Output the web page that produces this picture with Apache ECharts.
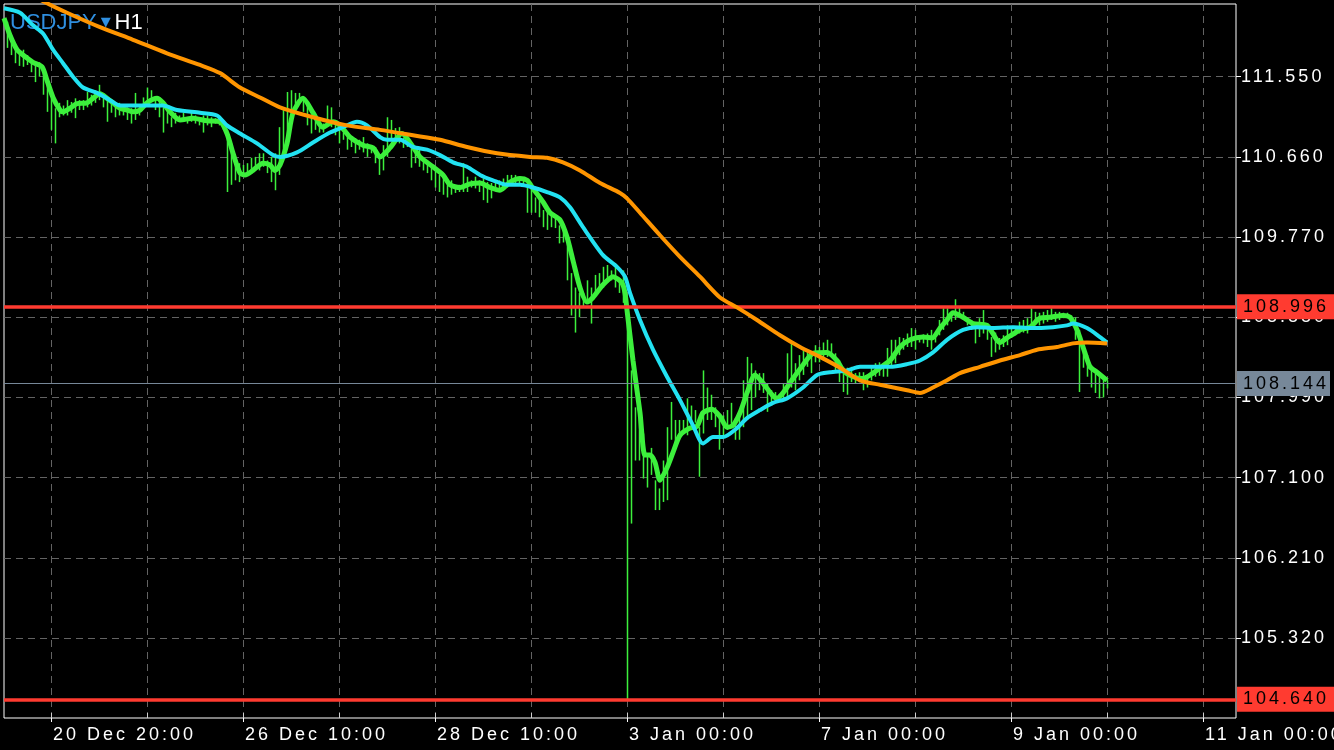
<!DOCTYPE html>
<html>
<head>
<meta charset="utf-8">
<script src="https://cdn.jsdelivr.net/npm/echarts@6/dist/echarts.min.js"></script>
<style>
html,body{margin:0;padding:0;background:#000;}
#c{width:1334px;height:750px;}
</style>
</head>
<body>
<div id="c"></div>
<script>
// ---- tracking for the axis/tag text (wide-spaced terminal font look) ----
(function(){
  var P = CanvasRenderingContext2D.prototype, orig = P.fillText;
  P.fillText = function(){
    if ('letterSpacing' in this) this.letterSpacing = /(^|\s)18px/.test(this.font) ? '3px' : '0px';
    return orig.apply(this, arguments);
  };
})();

// ---------------- DATA ----------------
const symbol = 'USDJPY';
const timeframe = 'H1';
const firstBar = 13;   // bar index of the first hourly bar shown
const barHigh = [
112.16,112.01,111.90,111.85,111.85,111.79,111.73,111.71,111.71,111.62,
111.46,111.31,111.20,111.26,111.23,111.29,111.27,111.31,111.29,111.29,
111.38,111.35,111.40,111.46,111.35,111.29,111.29,111.26,111.26,111.21,
111.21,111.20,111.37,111.21,111.32,111.43,111.40,111.32,111.32,111.21,
111.18,111.10,111.15,111.12,111.15,111.10,111.15,111.12,111.10,111.12,
111.12,111.10,111.09,111.07,111.07,110.96,110.81,110.62,110.59,110.57,
110.59,110.65,110.66,110.70,110.70,110.62,110.66,110.70,110.99,111.18,
111.38,111.40,111.37,111.37,111.31,111.23,111.12,111.12,111.03,111.03,
111.23,111.21,111.05,110.99,110.93,110.93,110.87,110.87,110.85,110.88,
110.81,110.79,110.77,110.68,110.79,111.10,111.07,110.98,110.99,110.87,
110.81,110.77,110.74,110.74,110.62,110.62,110.55,110.51,110.46,110.44,
110.40,110.40,110.35,110.35,110.59,110.44,110.40,110.44,110.40,110.42,
110.38,110.37,110.40,110.40,110.42,110.46,110.46,110.46,110.44,110.42,
110.35,110.31,110.21,110.18,110.07,110.05,110.04,110.01,109.90,109.92,
109.74,109.37,109.21,109.15,109.15,109.29,109.21,109.35,109.37,109.44,
109.46,109.40,109.46,109.29,109.40,108.93,108.29,107.88,107.82,107.59,
107.35,107.43,107.07,106.98,107.29,107.66,107.94,107.74,107.74,107.74,
107.98,107.90,107.85,107.66,108.29,108.10,108.02,107.88,107.77,107.79,
107.85,107.93,107.76,107.79,108.18,108.44,108.37,108.29,108.26,108.26,
108.15,108.07,108.05,108.02,108.15,108.48,108.59,108.37,108.46,108.54,
108.49,108.49,108.57,108.55,108.60,108.63,108.59,108.48,108.40,108.33,
108.32,108.33,108.26,108.27,108.27,108.22,108.33,108.37,108.38,108.37,
108.54,108.63,108.63,108.66,108.65,108.70,108.76,108.74,108.68,108.69,
108.70,108.74,108.68,108.85,108.98,108.98,108.94,109.08,108.99,108.94,
108.88,108.85,108.81,108.87,108.96,108.81,108.66,108.71,108.65,108.68,
108.79,108.77,108.77,108.83,108.85,108.87,108.98,108.94,108.93,108.94,
108.96,108.98,108.94,108.94,108.93,108.93,108.90,108.88,108.74,108.57,
108.46,108.35,108.29,108.26,108.22,108.18];
const barLow = [
111.87,111.79,111.70,111.67,111.66,111.68,111.60,111.49,111.55,111.35,
111.16,110.96,110.81,111.10,111.12,111.12,111.15,111.09,111.18,111.18,
111.21,111.23,111.26,111.29,111.21,111.05,111.15,111.10,111.12,111.12,
111.07,111.03,111.07,111.12,111.20,111.26,111.29,111.18,111.10,110.93,
111.03,110.99,111.03,111.05,111.05,111.03,111.05,111.03,111.01,110.93,
111.01,110.99,111.03,111.01,110.96,110.27,110.35,110.40,110.38,110.44,
110.46,110.48,110.55,110.51,110.55,110.48,110.38,110.29,110.46,110.68,
110.90,111.10,111.21,111.26,111.16,111.01,110.92,110.96,110.93,110.93,
111.01,110.99,110.90,110.81,110.85,110.74,110.77,110.70,110.74,110.71,
110.66,110.70,110.59,110.46,110.51,110.66,110.85,110.85,110.81,110.76,
110.77,110.54,110.59,110.55,110.51,110.48,110.40,110.32,110.27,110.24,
110.21,110.24,110.26,110.27,110.27,110.27,110.32,110.31,110.27,110.18,
110.15,110.20,110.29,110.27,110.32,110.32,110.35,110.35,110.37,110.35,
110.04,110.04,110.04,109.99,109.88,109.85,109.88,109.87,109.70,109.71,
109.29,108.90,108.71,108.88,108.99,109.04,108.81,109.15,109.21,109.21,
109.26,109.29,109.21,109.15,109.04,104.64,106.59,107.29,107.29,107.09,
106.99,107.13,106.74,106.74,106.83,106.85,107.52,107.44,107.55,107.60,
107.57,107.66,107.71,107.11,107.59,107.74,107.74,107.66,107.41,107.55,
107.63,107.66,107.52,107.52,107.66,107.74,107.85,107.99,108.07,108.04,
107.83,107.90,107.93,107.94,107.98,107.98,108.10,108.07,108.18,108.24,
108.33,108.26,108.38,108.38,108.40,108.44,108.44,108.29,108.16,108.05,
108.02,108.16,108.15,108.16,108.07,108.10,108.18,108.22,108.23,108.22,
108.22,108.32,108.37,108.46,108.52,108.55,108.55,108.52,108.60,108.59,
108.55,108.52,108.60,108.68,108.74,108.79,108.83,108.85,108.88,108.85,
108.79,108.74,108.59,108.66,108.70,108.63,108.44,108.49,108.52,108.55,
108.57,108.65,108.68,108.70,108.71,108.70,108.76,108.81,108.79,108.81,
108.83,108.85,108.83,108.85,108.87,108.87,108.79,108.63,108.05,108.32,
108.22,108.10,108.04,107.98,107.99,108.09];

// moving averages: [bar index, price]
const maFast = [
[12.25,112.20],[13.75,112.01],[15.5,111.85],[17,111.79],[19.5,111.71],[21.75,111.66],[23,111.51],
[24.5,111.32],[26.25,111.18],[27,111.16],[28.75,111.20],[30.5,111.25],[33,111.26],[34.5,111.31],
[36.25,111.36],[38,111.31],[39.5,111.26],[41.25,111.20],[43,111.18],[44.5,111.16],[46.25,111.18],
[48,111.26],[50.5,111.31],[52,111.26],[53.75,111.16],[56.25,111.07],[59.5,111.09],[63,111.06],
[66.25,111.05],[68,110.92],[69.5,110.70],[71.25,110.48],[72.5,110.46],[74.5,110.51],[77,110.59],
[78.75,110.57],[80,110.51],[81.25,110.57],[83,110.81],[84.5,111.15],[87,111.31],[89.5,111.15],
[92,110.99],[94.5,111.05],[96.25,111.01],[98.75,110.88],[102,110.79],[104.5,110.76],[106.25,110.66],
[108.75,110.76],[111.75,110.92],[113.75,110.82],[116.25,110.66],[119.5,110.55],[122,110.46],
[123.75,110.35],[126.25,110.32],[128.75,110.36],[131.25,110.37],[133.75,110.32],[136.25,110.29],
[138.75,110.38],[141.25,110.42],[143,110.40],[144.5,110.31],[147,110.16],[148.75,110.04],
[151.25,109.96],[153,109.77],[154.5,109.51],[156.25,109.21],[158,109.05],[159.5,109.10],[162,109.24],
[164.5,109.33],[166.75,109.26],[167.5,109.15],[168,108.96],[169.5,108.40],[171.25,107.82],
[172.5,107.35],[173.75,107.35],[175,107.27],[176.25,107.07],[178,107.21],[179.5,107.38],
[181.25,107.57],[183.75,107.65],[185.5,107.67],[187,107.82],[189.25,107.86],[191.25,107.78],
[193,107.66],[194.5,107.68],[196.25,107.82],[198,108.04],[200,108.24],[202,108.15],[204.25,108.02],
[205.5,107.98],[207,108.04],[209.5,108.20],[212,108.35],[214.5,108.48],[218,108.49],[220.5,108.40],
[222,108.29],[224.5,108.22],[227,108.20],[229.5,108.26],[231.25,108.32],[233.75,108.40],
[236.25,108.55],[238.75,108.63],[242,108.66],[244.25,108.65],[246.25,108.76],[248,108.85],
[249.5,108.93],[252,108.88],[254.5,108.81],[258,108.79],[261.25,108.60],[263,108.65],[266.25,108.74],
[268.75,108.77],[271.25,108.87],[273.75,108.88],[277,108.90],[278.75,108.88],[280.5,108.74],
[282,108.55],[283.75,108.33],[285.5,108.27],[288,108.18]];
const maMid = [
[12.25,112.31],[16.25,112.26],[19.5,112.12],[22,112.03],[24.5,111.85],[27,111.70],[29.5,111.55],
[32,111.43],[35.5,111.37],[38.75,111.29],[41.25,111.23],[48,111.23],[52,111.23],[55.5,111.18],
[61.25,111.15],[65.5,111.12],[68,111.01],[71.25,110.92],[75.5,110.81],[79.5,110.68],[81.25,110.66],
[85.5,110.71],[89.5,110.82],[93.75,110.93],[97,110.99],[100.5,111.05],[103,111.01],[106.25,110.88],
[108,110.85],[111.25,110.85],[114.5,110.77],[118,110.74],[121.25,110.68],[124.5,110.60],[128,110.55],
[131.25,110.46],[134.5,110.40],[138,110.35],[141.25,110.35],[144.5,110.32],[148,110.27],
[151.25,110.21],[153.75,110.10],[157,109.88],[162,109.57],[165.5,109.44],[167.5,109.33],
[168.75,109.15],[171.25,108.85],[174.5,108.52],[178,108.22],[181.25,107.96],[184.5,107.68],
[187,107.48],[189.5,107.55],[192,107.55],[195.5,107.65],[198,107.76],[201.25,107.85],[204.5,107.93],
[208,107.98],[212,108.10],[215.5,108.24],[218.75,108.27],[223,108.29],[226.25,108.33],[229.5,108.33],
[233.75,108.33],[238,108.36],[241.25,108.40],[244.5,108.49],[248,108.63],[252,108.74],[255.5,108.77],
[259.5,108.76],[264.5,108.77],[268.75,108.76],[274.5,108.77],[278,108.79],[279.5,108.81],[283,108.76],
[286.25,108.66],[288,108.60]];
const maSlow = [
[13,112.60],[23.25,112.36],[28,112.26],[36.25,112.10],[44.5,111.96],[53,111.81],[61.25,111.68],
[66.25,111.59],[71.25,111.43],[76.25,111.32],[81.25,111.21],[89.5,111.10],[98,111.01],[106.25,110.96],
[114.5,110.90],[121.25,110.85],[128,110.77],[135.5,110.70],[143.75,110.66],[148,110.65],[152,110.60],
[156.25,110.51],[161.25,110.37],[166.25,110.26],[168,110.20],[171.25,110.04],[176.25,109.79],
[181.25,109.55],[186.25,109.33],[191.25,109.10],[195.5,108.99],[200.5,108.85],[206.25,108.68],
[211.25,108.55],[216.25,108.44],[221.25,108.32],[226.25,108.18],[231.25,108.13],[238,108.07],
[241.25,108.04],[244.5,108.10],[248,108.18],[251.25,108.26],[256.25,108.33],[261.25,108.40],
[266.25,108.46],[270.5,108.52],[275.5,108.55],[279.5,108.59],[283,108.60],[288,108.59]];

const levelLines = [108.996, 104.640];
const lastPrice = 108.144;
const yTicks = [105.320, 106.210, 107.100, 107.990, 108.880, 109.770, 110.660, 111.550];
const xGridTicks = [24,48,72,96,120,144,168,192,216,240,264,288,312];
const xLabelTicks = [24,72,120,168,216,264,312];
const xLabels = ['20 Dec 20:00','26 Dec 10:00','28 Dec 10:00','3 Jan 00:00','7 Jan 00:00','9 Jan 00:00','11 Jan 00:00'];
const xRange = [12.25, 320.25];
const yRange = [104.432, 112.357];

// ---------------- CHART ----------------
const bars = barHigh.map((h, i) => [firstBar + i, barLow[i], h]);
const FONT = 'Liberation Sans';
const RED = '#ff3b30';
const GREY = '#778899';
const GREEN = '#3cf03c';

const chart = echarts.init(document.getElementById('c'), null, {renderer: 'canvas'});
const gridLine = {show: true, lineStyle: {color: '#636363', width: 1, type: [7, 5]}};

chart.setOption({
  animation: false,
  backgroundColor: '#000',
  title: {
    text: '{s|' + symbol + '}{sp| }{t|\u25BC}{sp| }{h|' + timeframe + '}',
    left: 5, top: 7, z: 0,
    textStyle: {
      fontSize: 21, fontWeight: 'normal', fontFamily: FONT, color: '#fff',
      rich: {
        s: {color: '#2f8fe0', fontSize: 22, fontFamily: FONT},
        sp: {fontSize: 14, fontFamily: FONT},
        t: {color: '#2f8fe0', fontSize: 13, fontFamily: 'DejaVu Sans'},
        h: {color: '#ffffff', fontSize: 22, fontFamily: FONT}
      }
    }
  },
  grid: {left: 4, right: 98, top: 4, bottom: 32, show: true, borderColor: '#ffffff', borderWidth: 1, backgroundColor: 'transparent'},
  xAxis: [{
    type: 'value', min: xRange[0], max: xRange[1], position: 'bottom',
    axisLine: {show: false},
    axisTick: {show: true, inside: true, length: 5, customValues: xGridTicks, lineStyle: {color: '#cfcfcf'}},
    axisLabel: {show: false},
    splitLine: gridLine
  }, {
    type: 'value', min: xRange[0], max: xRange[1], position: 'bottom',
    axisLine: {show: false},
    axisTick: {show: true, inside: false, length: 4, customValues: xLabelTicks, lineStyle: {color: '#ffffff'}},
    axisLabel: {
      show: true, customValues: xLabelTicks, align: 'left', margin: 8, padding: [0, 0, 0, 2],
      color: '#ffffff', fontSize: 18, fontFamily: FONT,
      formatter: v => xLabels[xLabelTicks.indexOf(Math.round(v))] || ''
    },
    splitLine: {show: false}
  }],
  yAxis: {
    type: 'value', min: yRange[0], max: yRange[1], position: 'right', scale: true,
    axisLine: {show: false},
    axisTick: {show: true, inside: false, length: 5, customValues: yTicks, lineStyle: {color: '#ffffff'}},
    axisLabel: {show: true, customValues: yTicks, margin: 5, color: '#ffffff', fontSize: 18, fontFamily: FONT,
      formatter: v => v.toFixed(3)},
    splitLine: gridLine
  },
  series: [
    {
      type: 'line', name: 'last', data: [], z: 1, silent: true,
      markLine: {
        silent: true, symbol: ['none', 'none'], precision: 3,
        lineStyle: {color: GREY, width: 1, type: 'solid'},
        label: {show: true, position: 'end', distance: 1, formatter: p => Number(p.value).toFixed(3),
          color: '#000', backgroundColor: GREY, fontSize: 18, fontFamily: FONT, padding: [4, 6, 3, 6], width: 81, align: 'left'},
        data: [{yAxis: lastPrice}]
      }
    },
    {
      type: 'custom', name: 'bars', data: bars, z: 2, clip: true,
      itemStyle: {color: GREEN},
      encode: {x: 0, y: [1, 2]},
      renderItem: function (params, api) {
        const x = api.value(0);
        const lo = api.coord([x, api.value(1)]);
        const hi = api.coord([x, api.value(2)]);
        return {type: 'rect',
          shape: {x: Math.round(lo[0]) - 0.25, y: hi[1], width: 1.5, height: Math.max(1, lo[1] - hi[1])},
          style: {fill: GREEN, stroke: null}};
      }
    },
    {type: 'line', name: 'fast', data: maFast, z: 3, showSymbol: false, smooth: 0.25, clip: true,
      lineStyle: {color: GREEN, width: 5}},
    {type: 'line', name: 'mid', data: maMid, z: 4, showSymbol: false, smooth: 0.25, clip: true,
      lineStyle: {color: '#22e2f2', width: 4}},
    {type: 'line', name: 'slow', data: maSlow, z: 5, showSymbol: false, smooth: 0.25, clip: true,
      lineStyle: {color: '#ff9500', width: 4}},
    {
      type: 'line', name: 'levels', data: [], z: 10, silent: true,
      markLine: {
        silent: true, symbol: ['none', 'none'], precision: 3,
        lineStyle: {color: RED, width: 3.5, type: 'solid'},
        label: {show: true, position: 'end', distance: 1, formatter: p => Number(p.value).toFixed(3),
          color: '#000', backgroundColor: RED, fontSize: 18, fontFamily: FONT, padding: [4, 6, 3, 6], width: 85, align: 'left'},
        data: levelLines.map(v => ({yAxis: v}))
      }
    }
  ]
});
</script>
</body>
</html>
